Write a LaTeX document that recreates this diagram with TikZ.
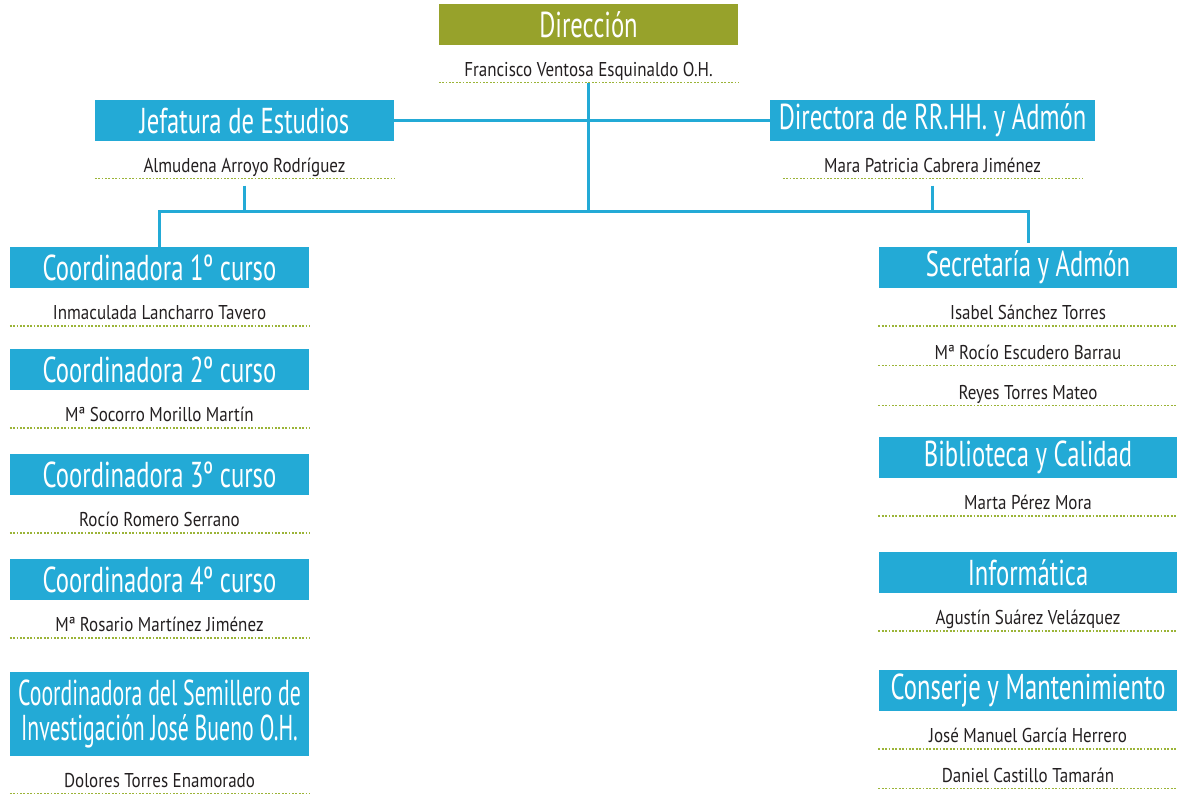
\documentclass[tikz,border=0pt]{standalone}
\usepackage{fontspec}
\setmainfont{PT Sans}
\newfontfamily\cargofont{PT Sans}[FakeStretch=0.685]
\newfontfamily\semfont{PT Sans}[FakeStretch=0.605]
\newfontfamily\personafont{PT Sans}[FakeStretch=0.85]
\usetikzlibrary{positioning}
\definecolor{azul}{RGB}{35,170,214}
\definecolor{oliva}{RGB}{151,162,43}
\definecolor{puntos}{RGB}{155,180,55}
\definecolor{texto}{RGB}{35,31,32}

\begin{document}
\begin{tikzpicture}[x=1pt,y=-1pt]
\tikzset{cargo/.style={fill=azul, text=white, minimum width=299pt,
minimum height=41pt, inner sep=0pt,
font=\cargofont\fontsize{36}{35}\selectfont}}
\tikzset{persona/.style={minimum width=299pt, inner sep=0pt,
text height=31pt, text depth=6pt, text=texto,
font=\personafont\fontsize{20}{22}\selectfont}}
\tikzset{linea/.style={draw=azul, line width=3pt}}
\tikzset{punteado/.style={draw=puntos, line width=1.8pt,
dash pattern=on 1.8pt off 1.6pt}}
\useasboundingbox (0,0) rectangle (1177,794);
% direccion
\node[cargo, fill=oliva] (dir) at (588.5,24.5) {Dirección};
\node[persona, below=0pt of dir] (dirP) {Francisco Ventosa Esquinaldo O.H.};
\node[cargo] (jef) at (244.5,120.5) {Jefatura de Estudios};
\node[persona, below=0pt of jef] (jefP) {Almudena Arroyo Rodríguez};
\node[cargo, minimum width=325pt] (rrhh) at (932.5,120.5) {Directora de RR.HH. y Admón};
\node[persona, below=0pt of rrhh] (rrhhP) {Mara Patricia Cabrera Jiménez};
% columna izquierda
\node[cargo] (c1) at (159.5,267.5) {Coordinadora 1º curso};
\node[persona, below=0pt of c1] (c1P) {Inmaculada Lancharro Tavero};
\node[cargo] (c2) at (159.5,369.5) {Coordinadora 2º curso};
\node[persona, below=0pt of c2] (c2P) {Mª Socorro Morillo Martín};
\node[cargo] (c3) at (159.5,474.5) {Coordinadora 3º curso};
\node[persona, below=0pt of c3] (c3P) {Rocío Romero Serrano};
\node[cargo] (c4) at (159.5,579.5) {Coordinadora 4º curso};
\node[persona, below=0pt of c4] (c4P) {Mª Rosario Martínez Jiménez};
\node[cargo, minimum height=84pt, align=center, font=\semfont\fontsize{36}{35}\selectfont] (sem) at (159.5,714)
{Coordinadora del Semillero de\\Investigación José Bueno O.H.};
\node[persona, below=0pt of sem] (semP) {Dolores Torres Enamorado};
% columna derecha
\node[cargo] (sec) at (1028,267.5) {Secretaría y Admón};
\node[persona, below=0pt of sec] (sec1) {Isabel Sánchez Torres};
\node[persona, below=2.5pt of sec1] (sec2) {Mª Rocío Escudero Barrau};
\node[persona, below=2.5pt of sec2] (sec3) {Reyes Torres Mateo};
\node[cargo] (bib) at (1028,457.5) {Biblioteca y Calidad};
\node[persona, below=0pt of bib] (bibP) {Marta Pérez Mora};
\node[cargo] (inf) at (1028,572.5) {Informática};
\node[persona, below=0pt of inf] (infP) {Agustín Suárez Velázquez};
\node[cargo] (con) at (1028,690.5) {Conserje y Mantenimiento};
\node[persona, below=0pt of con] (con1) {José Manuel García Herrero};
\node[persona, below=2.5pt of con1] (con2) {Daniel Castillo Tamarán};
% lineas punteadas
\foreach \n in {dirP,jefP,rrhhP,c1P,c2P,c3P,c4P,semP,sec1,sec2,sec3,bibP,infP,con1,con2}
  \draw[punteado] (\n.south west) -- (\n.south east);
% conectores
\coordinate (bus) at (0,212);
\draw[linea] (jef) -- (rrhh);
\draw[linea] (dirP.south) -- (dirP.south |- bus);
\draw[linea, shorten <=7pt] (jefP.south) -- (jefP.south |- bus);
\draw[linea, shorten <=7pt] (rrhhP.south) -- (rrhhP.south |- bus);
\draw[linea, shorten >=4pt] (c1.north) |- (sec.north |- bus) -- (sec.north);
\end{tikzpicture}
\end{document}
